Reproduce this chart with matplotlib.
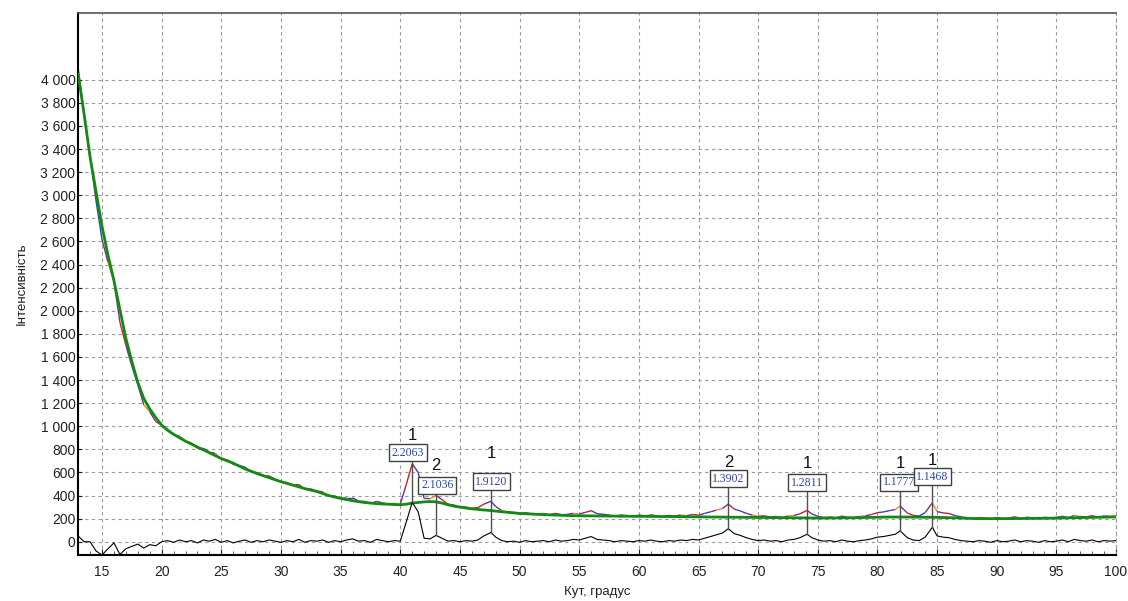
import matplotlib
matplotlib.use("Agg")
import matplotlib.pyplot as plt
from matplotlib.collections import LineCollection
from matplotlib.ticker import MultipleLocator, FuncFormatter
import numpy as np

# angle grid of the scan, degrees 2-theta
angle = [13.0, 13.5, 14.0, 14.5, 15.0, 15.5, 16.0, 16.5, 17.0, 17.5, 18.0, 18.5, 19.0, 19.5,
         20.0, 20.5, 21.0, 21.5, 22.0, 22.5, 23.0, 23.5, 24.0, 24.5, 25.0, 25.5, 26.0, 26.5,
         27.0, 27.5, 28.0, 28.5, 29.0, 29.5, 30.0, 30.5, 31.0, 31.5, 32.0, 32.5, 33.0, 33.5,
         34.0, 34.5, 35.0, 35.5, 36.0, 36.5, 37.0, 37.5, 38.0, 38.5, 39.0, 39.5, 40.0, 40.5,
         41.0, 41.5, 42.0, 42.5, 43.0, 43.5, 44.0, 44.5, 45.0, 45.5, 46.0, 46.5, 47.0, 47.6,
         48.0, 48.5, 49.0, 49.5, 50.0, 50.5, 51.0, 51.5, 52.0, 52.5, 53.0, 53.5, 54.0, 54.5,
         55.0, 55.5, 56.0, 56.5, 57.0, 57.5, 58.0, 58.5, 59.0, 59.5, 60.0, 60.5, 61.0, 61.5,
         62.0, 62.5, 63.0, 63.5, 64.0, 64.5, 65.0, 65.5, 66.0, 66.5, 67.0, 67.5, 68.0, 68.5,
         69.0, 69.5, 70.0, 70.5, 71.0, 71.5, 72.0, 72.5, 73.0, 73.5, 74.1, 74.5, 75.0, 75.5,
         76.0, 76.5, 77.0, 77.5, 78.0, 78.5, 79.0, 79.5, 80.0, 80.5, 81.0, 81.5, 81.9, 82.5,
         83.0, 83.5, 84.0, 84.6, 85.0, 85.5, 86.0, 86.5, 87.0, 87.5, 88.0, 88.5, 89.0, 89.5,
         90.0, 90.5, 91.0, 91.5, 92.0, 92.5, 93.0, 93.5, 94.0, 94.5, 95.0, 95.5, 96.0, 96.5,
         97.0, 97.5, 98.0, 98.5, 99.0, 99.5, 100.0]

# fitted background (green line)
background = [4050, 3700, 3330, 3030, 2730, 2480, 2260, 2010, 1760, 1560, 1380, 1240, 1150, 1075,
              1010, 965, 930, 900, 870, 845, 820, 795, 770, 745, 720, 700, 680, 655,
              630, 610, 590, 572, 555, 537, 520, 505, 490, 475, 460, 447, 435, 417,
              400, 387, 375, 365, 355, 347, 340, 335, 330, 327, 325, 322, 320, 325,
              335, 340, 345, 348, 345, 335, 320, 308, 300, 292, 285, 280, 275, 270,
              265, 260, 255, 250, 245, 242, 240, 237, 235, 233, 231, 229, 227, 226,
              225, 224, 224, 223, 223, 222, 222, 221, 221, 220, 220, 220, 219, 219,
              218, 218, 217, 217, 216, 216, 215, 215, 214, 214, 213, 213, 212, 212,
              211, 211, 210, 210, 209, 209, 208, 208, 207, 207, 206, 206, 205, 205,
              206, 206, 207, 207, 208, 209, 210, 211, 212, 213, 214, 214, 214, 214,
              213, 213, 212, 212, 211, 210, 209, 207, 205, 203, 201, 200, 200, 200,
              200, 200, 200, 201, 201, 202, 202, 203, 203, 204, 205, 206, 207, 208,
              209, 210, 211, 212, 213, 214, 215]

# difference profile (black line)
difference = [50, 0, 0, -80, -115, -60, -10, -110, -60, -40, -20, -55, -25, -35,
              0, 10, -5, 15, 0, 10, -10, 15, 5, 20, -5, 10, -10, 5,
              15, -5, 10, 0, 15, 5, -5, 10, 0, 20, -5, 10, 5, 15,
              -5, 10, 0, 15, 25, 5, 10, -5, 20, 10, 0, 10, 5, 170,
              340, 260, 30, 25, 55, 30, 5, 10, 0, 10, 5, 15, 50, 80,
              40, 10, 0, 5, -5, 10, 0, 5, 10, 0, 15, 5, 10, 20,
              15, 30, 45, 20, 15, 10, 0, 10, 5, 0, 10, 5, 15, 5,
              0, 10, 5, 15, 10, 20, 15, 30, 45, 60, 75, 113, 70, 55,
              35, 20, 10, 15, 5, 10, 0, 15, 20, 35, 65, 35, 15, 5,
              10, 0, 15, 5, 0, 10, 15, 25, 40, 45, 55, 65, 95, 35,
              15, 10, 40, 125, 50, 40, 35, 20, 10, 5, 0, 10, 5, -5,
              10, 0, 5, 15, 0, 10, 5, -5, 10, 0, 5, 15, 0, 20,
              10, 5, 15, 0, 10, 5, 10]

# indexed reflections: angle, d-spacing, phase number, difference peak height
peak_angle = [41.0, 43.0, 47.6, 67.5, 74.1, 81.9, 84.6]
peak_d = ["2.2063", "2.1036", "1.9120", "1.3902", "1.2811", "1.1777", "1.1468"]
peak_phase = ["1", "2", "1", "2", "1", "1", "1"]
peak_height = [340, 55, 80, 113, 65, 95, 125]

# where the label boxes sit (layout)
box_x = [40.66, 43.1, 47.65, 67.5, 74.1, 81.8, 84.6]
box_y = [770, 490, 520, 545, 512, 516, 564]
phase_y = [917, 658, 762, 686, 675, 678, 707]

angle = np.array(angle)
background = np.array(background)
difference = np.array(difference)
measured = background + difference

plt.rcParams["font.family"] = ["Liberation Sans", "DejaVu Sans"]

fig = plt.figure(figsize=(11.28, 6.01), dpi=100)
ax = fig.add_axes([0.0693, 0.0765, 0.9201, 0.9019])

# measured pattern, drawn in the mixed colours of the original program
pts = np.column_stack([angle, measured]).reshape(-1, 1, 2)
segs = np.concatenate([pts[:-1], pts[1:]], axis=1)
cyc = ["#7b2c8c", "#d02020", "#7b2c8c", "#2848b8", "#7b2c8c", "#e09020"]
seg_colors = [cyc[i % len(cyc)] for i in range(len(segs))]
ax.add_collection(LineCollection(segs, colors=seg_colors, linewidths=1.0, zorder=2))

ax.plot(angle, background, color="#138a13", lw=2.0, zorder=3)
ax.plot(angle, difference, color="black", lw=0.8, zorder=4)

for i in range(len(peak_angle)):
    ax.plot([peak_angle[i], peak_angle[i]], [peak_height[i], box_y[i] - 58],
            color="#505050", lw=1.0, zorder=5)
    ax.text(box_x[i], box_y[i], peak_d[i], ha="center", va="center",
            fontsize=8.5, color="#2a45a8", family=["Liberation Serif", "DejaVu Serif"],
            bbox=dict(boxstyle="square,pad=0.22", fc="white", ec="#404040", lw=1.0),
            zorder=6 + i)
    ax.text(peak_angle[i], phase_y[i], peak_phase[i], ha="center", va="center",
            fontsize=12, color="#111111", zorder=6)

ax.set_xlim(13, 100)
ax.set_ylim(-115, 4578)
ax.xaxis.set_major_locator(MultipleLocator(5))
ax.xaxis.set_minor_locator(MultipleLocator(1))
ax.set_yticks(np.arange(0, 4001, 200))
ax.yaxis.set_major_formatter(FuncFormatter(lambda v, p: f"{int(v):,}".replace(",", " ")))

ax.grid(True, which="major", color="#9a9a9a", ls=(0, (3, 3)), lw=0.8)
ax.tick_params(axis="x", which="major", direction="in", length=4, labelsize=10,
               colors="#222222", pad=7)
ax.tick_params(axis="x", which="minor", direction="in", length=3, color="#444444")
ax.tick_params(axis="y", direction="in", length=3, labelsize=10, colors="#222222", pad=2)

for s in ["left", "bottom"]:
    ax.spines[s].set_linewidth(1.5)
    ax.spines[s].set_color("black")
ax.spines["top"].set_color("#555555")
ax.spines["top"].set_linewidth(1.2)
ax.spines["right"].set_color("#9a9a9a")
ax.spines["right"].set_linestyle((0, (3, 3)))

ax.set_xlabel("Кут, градус", fontsize=9.5, color="#222222", labelpad=5)
ax.set_ylabel("Інтенсивність", fontsize=9.5, color="#222222", labelpad=9)

fig.savefig("out.png", dpi=100)
